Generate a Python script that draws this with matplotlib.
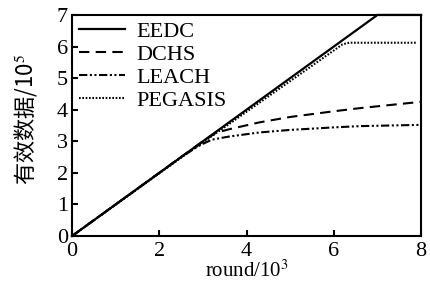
import matplotlib
matplotlib.use('Agg')
import matplotlib.pyplot as plt

plt.rcParams['font.family'] = ['Liberation Serif', 'Noto Sans CJK SC']
plt.rcParams['mathtext.fontset'] = 'stix'

# data (round in 10^3, effective data in 10^5)
eedc_x = [0, 7.0, 8.0]
eedc_y = [0, 7.0, 7.0]
dchs_x = [0, 2.5, 3.0, 3.3, 3.6, 4.3, 5.0, 6.0, 6.6, 7.3, 8.0]
dchs_y = [0, 2.5, 3.0, 3.27, 3.38, 3.6, 3.77, 3.95, 4.05, 4.15, 4.25]
leach_x = [0, 2.5, 2.9, 3.2, 3.6, 4.3, 5.0, 6.0, 6.6, 7.3, 8.0]
leach_y = [0, 2.5, 2.85, 3.05, 3.15, 3.28, 3.36, 3.44, 3.48, 3.5, 3.52]
pegasis_x = [0, 2.5, 6.2, 6.35, 7.9]
pegasis_y = [0, 2.48, 6.07, 6.12, 6.12]

fig = plt.figure(figsize=(4.31, 2.82), dpi=100)
ax = fig.add_axes([0.167, 0.163, 0.81, 0.784])

ax.plot(eedc_x, eedc_y, color='black', lw=1.6, ls='-', label='EEDC', clip_on=False, zorder=4)
ax.plot(dchs_x, dchs_y, color='black', lw=1.5, ls=(0, (5, 3)), label='DCHS')
ax.plot(leach_x, leach_y, color='black', lw=1.5, ls=(0, (4, 1.2, 1, 1.2, 1, 1.2)), label='LEACH')
ax.plot(pegasis_x, pegasis_y, color='black', lw=1.5, ls=(0, (0.8, 0.8)), label='PEGASIS')

ax.set_xlim(0, 8)
ax.set_ylim(0, 7)
ax.set_xticks([0, 2, 4, 6, 8])
ax.set_yticks(range(8))
ax.tick_params(direction='in', length=4, width=1.5, labelsize=16)
ax.tick_params(axis='x', pad=4)
ax.tick_params(axis='y', pad=3)
for s in ax.spines.values():
    s.set_linewidth(1.5)

ax.set_xlabel('round/10$^3$', fontsize=15, labelpad=0)
ax.set_ylabel('有效数据/10$^5$', fontsize=16, family=['Noto Sans CJK SC'])
ax.yaxis.set_label_coords(-0.095, 0.53)

ax.legend(loc='upper left', frameon=False, fontsize=16, handlelength=2.1,
          handletextpad=0.5, labelspacing=0.1, borderaxespad=0.1,
          borderpad=0.2)

fig.savefig('out.png', dpi=100)
